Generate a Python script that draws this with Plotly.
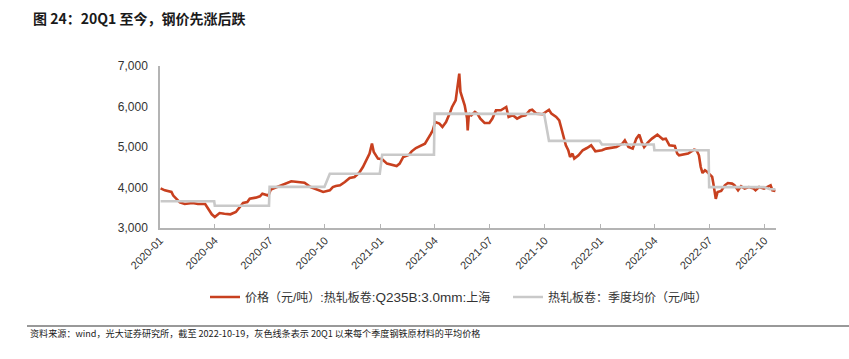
import plotly.graph_objects as go

# ---- Data ----
price_dates = [
    "2020-01-02", "2020-01-09", "2020-01-20", "2020-01-23", "2020-02-03", "2020-02-11", "2020-02-24",
    "2020-03-04", "2020-03-16", "2020-03-23", "2020-03-27", "2020-04-01", "2020-04-09", "2020-04-17",
    "2020-04-27", "2020-05-06", "2020-05-13", "2020-05-18", "2020-05-25", "2020-05-29", "2020-06-08",
    "2020-06-15", "2020-06-19", "2020-06-29", "2020-07-03", "2020-07-13", "2020-07-21", "2020-07-29",
    "2020-08-06", "2020-08-17", "2020-08-28", "2020-09-07", "2020-09-14", "2020-09-22", "2020-09-28",
    "2020-10-09", "2020-10-14", "2020-10-19", "2020-10-26", "2020-11-03", "2020-11-11", "2020-11-19",
    "2020-11-27", "2020-12-03", "2020-12-09", "2020-12-14", "2020-12-18", "2020-12-21", "2020-12-28",
    "2021-01-04", "2021-01-12", "2021-01-20", "2021-01-28", "2021-02-02", "2021-02-08", "2021-02-18",
    "2021-02-22", "2021-03-01", "2021-03-08", "2021-03-16", "2021-03-26", "2021-03-29", "2021-04-02",
    "2021-04-09", "2021-04-14", "2021-04-20", "2021-04-26", "2021-04-30", "2021-05-06", "2021-05-10",
    "2021-05-12", "2021-05-14", "2021-05-19", "2021-05-21", "2021-05-25", "2021-05-26", "2021-05-28",
    "2021-06-01", "2021-06-07", "2021-06-11", "2021-06-16", "2021-06-23", "2021-07-01", "2021-07-06",
    "2021-07-12", "2021-07-20", "2021-07-29", "2021-08-02", "2021-08-09", "2021-08-16", "2021-08-23",
    "2021-08-30", "2021-09-06", "2021-09-10", "2021-09-17", "2021-09-27", "2021-10-08", "2021-10-12",
    "2021-10-20", "2021-10-25", "2021-10-28", "2021-11-01", "2021-11-05", "2021-11-09", "2021-11-12",
    "2021-11-16", "2021-11-19", "2021-11-26", "2021-12-03", "2021-12-10", "2021-12-17", "2021-12-24",
    "2022-01-04", "2022-01-11", "2022-01-21", "2022-01-28", "2022-02-07", "2022-02-11", "2022-02-17",
    "2022-02-24", "2022-03-02", "2022-03-07", "2022-03-11", "2022-03-15", "2022-03-21", "2022-03-28",
    "2022-04-06", "2022-04-11", "2022-04-15", "2022-04-20", "2022-04-26", "2022-05-05", "2022-05-09",
    "2022-05-12", "2022-05-19", "2022-05-27", "2022-06-06", "2022-06-10", "2022-06-14", "2022-06-17",
    "2022-06-20", "2022-06-24", "2022-06-28", "2022-07-01", "2022-07-06", "2022-07-08", "2022-07-12",
    "2022-07-15", "2022-07-21", "2022-07-27", "2022-08-01", "2022-08-08", "2022-08-12", "2022-08-18",
    "2022-08-23", "2022-08-29", "2022-09-05", "2022-09-13", "2022-09-16", "2022-09-22", "2022-09-30",
    "2022-10-11", "2022-10-14", "2022-10-19",
]
price_values = [
    3980, 3930, 3890, 3800, 3630, 3593, 3617,
    3593, 3593, 3437, 3338, 3272, 3370, 3353,
    3338, 3395, 3519, 3617, 3642, 3725, 3750,
    3783, 3848, 3800, 3948, 4012, 4062, 4096,
    4153, 4136, 4120, 4012, 3973, 3931, 3889,
    3931, 4012, 4037, 4054, 4136, 4235, 4259,
    4367, 4506, 4672, 4837, 5084, 4877, 4714,
    4696, 4590, 4565, 4531, 4590, 4753, 4812,
    4894, 4975, 5020, 5080, 5330, 5412, 5617,
    5577, 5494, 5617, 5824, 5988, 6153, 6647,
    6812, 6358, 6153, 6030, 5701, 5412, 5824,
    5783, 5865, 5824, 5701, 5594, 5594, 5701,
    5906, 5906, 5988, 5742, 5783, 5701, 5758,
    5783, 5906, 5922, 5824, 5808, 5920, 5824,
    5742, 5659, 5494, 5247, 5042, 4919, 4753,
    4837, 4714, 4795, 4919, 4975, 5042, 4894,
    4919, 4960, 4975, 5000, 5084, 5165, 5000,
    4960, 5207, 5306, 5124, 5000, 5108, 5207,
    5306, 5247, 5190, 5207, 5042, 5025, 4837,
    4795, 4812, 4837, 4936, 4919, 4795, 4506,
    4358, 4425, 4383, 4342, 4260, 4096, 3720,
    3889, 3914, 4054, 4111, 4096, 4054, 3931,
    4030, 3973, 4012, 3973, 3931, 4012, 3973,
    4054, 3931, 3914,
]

quarter_first_days = ["2020-01-02", "2020-04-01", "2020-07-01", "2020-10-09", "2021-01-04", "2021-04-01",
                      "2021-07-01", "2021-10-08", "2022-01-04", "2022-04-01", "2022-07-01", "2022-10-10"]
quarter_last_days = ["2020-03-31", "2020-06-30", "2020-09-30", "2020-12-31", "2021-03-31", "2021-06-30",
                     "2021-09-30", "2021-12-31", "2022-03-31", "2022-06-30", "2022-09-30", "2022-10-19"]
quarter_avg = [3660, 3550, 4015, 4340, 4810, 5825, 5815, 5150, 5060, 4920, 4010, 3955]

y_ticks = [3000, 4000, 5000, 6000, 7000]
x_ticks = ["2020-01-01", "2020-04-01", "2020-07-01", "2020-10-01", "2021-01-01", "2021-04-01",
           "2021-07-01", "2021-10-01", "2022-01-01", "2022-04-01", "2022-07-01", "2022-10-01"]

# quarterly step line built from quarter first/last trading days
step_x, step_y = [], []
for a, b, v in zip(quarter_first_days, quarter_last_days, quarter_avg):
    step_x += [a, b]
    step_y += [v, v]

RED = "#C8401F"
GRAY = "#C9C9C9"
LAT = "Liberation Sans, Noto Sans CJK SC"

fig = go.Figure()
fig.add_trace(go.Scatter(
    x=price_dates, y=price_values, mode="lines",
    name='价格（元/吨）:热轧板卷<span style="font-size:13.5px">:Q235B:3.0mm:</span>上海',
    line=dict(color=RED, width=2.6), legend="legend",
))
fig.add_trace(go.Scatter(
    x=step_x, y=step_y, mode="lines",
    name="热轧板卷：季度均价（元/吨）",
    line=dict(color=GRAY, width=2.6), legend="legend2",
))

W, H = 849, 359
L, R, T, B = 160, 73, 66, 131
pw, ph = W - L - R, H - T - B

def px_x(x):
    return (x - L) / pw

def px_y(y):
    return (H - B - y) / ph

legend_font = dict(family=LAT, size=12, color="#333333")

fig.update_layout(
    width=W, height=H,
    margin=dict(l=L, r=R, t=T, b=B),
    paper_bgcolor="white", plot_bgcolor="white",
    title=dict(text="<b>图 24：20Q1 至今，钢价先涨后跌</b>",
               x=33 / W, xanchor="left", y=1 - 19 / H, yanchor="middle",
               font=dict(family="Noto Sans CJK SC", size=14, color="#1a1a1a")),
    showlegend=True,
    legend=dict(orientation="h", x=px_x(205), xanchor="left", y=px_y(297), yanchor="middle",
                font=legend_font, bgcolor="rgba(0,0,0,0)"),
    legend2=dict(orientation="h", x=px_x(508), xanchor="left", y=px_y(297), yanchor="middle",
                 font=legend_font, bgcolor="rgba(0,0,0,0)"),
    xaxis=dict(range=["2020-01-01", "2022-10-20"], tickvals=x_ticks, tickformat="%Y-%m",
               tickangle=-45, showgrid=False, zeroline=False,
               showline=True, linecolor="#B4B4B4", linewidth=1.5,
               ticks="inside", ticklen=4, tickcolor="#B4B4B4",
               tickfont=dict(family=LAT, size=11, color="#333333")),
    yaxis=dict(range=[3000, 7000], tickvals=y_ticks, tickformat=",d",
               showgrid=False, zeroline=False,
               showline=True, linecolor="#B4B4B4", linewidth=1.5, ticks="",
               ticklabelstandoff=8,
               tickfont=dict(family=LAT, size=12, color="#333333")),
    shapes=[dict(type="line", xref="paper", yref="paper",
                 x0=px_x(27), x1=px_x(849), y0=px_y(326), y1=px_y(326),
                 line=dict(color="#333333", width=1))],
    annotations=[dict(text="资料来源：wind，光大证券研究所，截至 2022-10-19，灰色线条表示 20Q1 以来每个季度钢铁原材料的平均价格",
                      xref="paper", yref="paper", x=px_x(28), y=px_y(333),
                      xanchor="left", yanchor="middle", showarrow=False,
                      font=dict(family="Noto Sans CJK SC", size=9.1, color="#1a1a1a"))],
)

fig.write_html("out.html", config={"displayModeBar": False},
               post_script="document.body.style.margin='0';document.body.style.overflow='hidden';")
